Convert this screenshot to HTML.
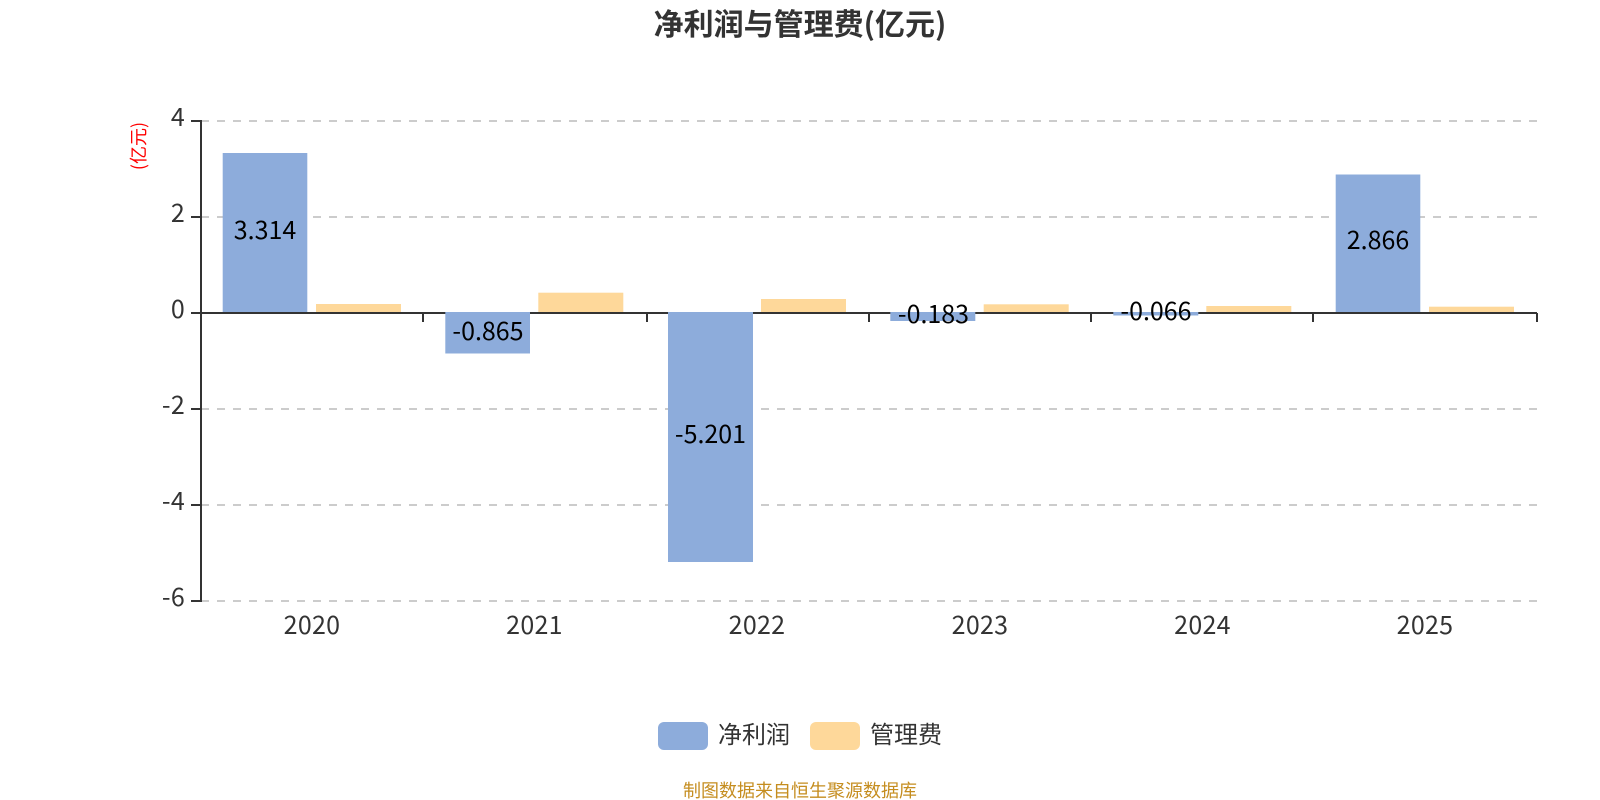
<!DOCTYPE html>
<html>
<head>
<meta charset="utf-8">
<style>
html,body{margin:0;padding:0;background:#fff;width:1600px;height:800px;overflow:hidden}
svg{display:block}
text{font-family:"Noto Sans CJK SC","Liberation Sans",sans-serif}
</style>
</head>
<body>
<svg width="1600" height="800" viewBox="0 0 1600 800" xmlns="http://www.w3.org/2000/svg">
<rect width="1600" height="800" fill="#fff"/>
<text x="800" y="35" text-anchor="middle" font-size="30" font-weight="700" fill="#333">净利润与管理费(亿元)</text>
<text transform="translate(145,146) rotate(-90)" text-anchor="middle" font-size="18" fill="#f00">(亿元)</text>

<g stroke="#ccc" stroke-width="2" stroke-dasharray="8 8" fill="none">
<line x1="201" y1="121" x2="1537" y2="121"/>
<line x1="201" y1="217" x2="1537" y2="217"/>
<line x1="201" y1="409" x2="1537" y2="409"/>
<line x1="201" y1="505" x2="1537" y2="505"/>
<line x1="201" y1="601" x2="1537" y2="601"/>
</g>

<g stroke="#333" stroke-width="2" fill="none">
<line x1="201" y1="120" x2="201" y2="602"/>
<line x1="191" y1="121" x2="201" y2="121"/>
<line x1="191" y1="217" x2="201" y2="217"/>
<line x1="191" y1="313" x2="201" y2="313"/>
<line x1="191" y1="409" x2="201" y2="409"/>
<line x1="191" y1="505" x2="201" y2="505"/>
<line x1="191" y1="601" x2="201" y2="601"/>
<line x1="200" y1="313" x2="1537" y2="313"/>
<line x1="423" y1="313" x2="423" y2="322"/>
<line x1="647" y1="313" x2="647" y2="322"/>
<line x1="869" y1="313" x2="869" y2="322"/>
<line x1="1091" y1="313" x2="1091" y2="322"/>
<line x1="1313" y1="313" x2="1313" y2="322"/>
<line x1="1537" y1="313" x2="1537" y2="322"/>
</g>

<g fill="#8dacdb">
<rect x="222.7" y="153" width="84.6" height="159"/>
<rect x="445.3" y="312" width="84.7" height="41.5"/>
<rect x="668" y="312" width="85" height="250"/>
<rect x="890.3" y="312" width="85" height="9"/>
<rect x="1113.3" y="312" width="85" height="3.5"/>
<rect x="1335.7" y="174.5" width="84.6" height="137.5"/>
</g>
<g fill="#fed89a">
<rect x="316" y="304" width="85" height="8"/>
<rect x="538.3" y="292.7" width="85" height="19.3"/>
<rect x="761" y="299" width="85" height="13"/>
<rect x="983.7" y="304.3" width="85" height="7.7"/>
<rect x="1206.3" y="306" width="85" height="6"/>
<rect x="1429" y="306.7" width="85" height="5.3"/>
</g>

<g font-size="25" letter-spacing="0.3" fill="#333" text-anchor="end">
<text x="185" y="126">4</text>
<text x="185" y="222">2</text>
<text x="185" y="318">0</text>
<text x="185" y="414">-2</text>
<text x="185" y="510">-4</text>
<text x="185" y="606">-6</text>
</g>
<g font-size="25" letter-spacing="0.3" fill="#333" text-anchor="middle">
<text x="312" y="634">2020</text>
<text x="534.5" y="634">2021</text>
<text x="757" y="634">2022</text>
<text x="980" y="634">2023</text>
<text x="1202.5" y="634">2024</text>
<text x="1425" y="634">2025</text>
</g>
<g font-size="25" fill="#000" text-anchor="middle">
<text x="265" y="239">3.314</text>
<text x="488" y="340">-0.865</text>
<text x="710.5" y="443">-5.201</text>
<text x="933.5" y="323">-0.183</text>
<text x="1156" y="320">-0.066</text>
<text x="1378" y="249">2.866</text>
</g>

<rect x="658" y="722" width="50" height="28" rx="6" fill="#8dacdb"/>
<text x="718" y="743" font-size="24" fill="#333">净利润</text>
<rect x="810" y="722" width="50" height="28" rx="6" fill="#fed89a"/>
<text x="870" y="743" font-size="24" fill="#333">管理费</text>
<text x="800" y="797" text-anchor="middle" font-size="18" fill="#c58d1f">制图数据来自恒生聚源数据库</text>
</svg>
</body>
</html>
